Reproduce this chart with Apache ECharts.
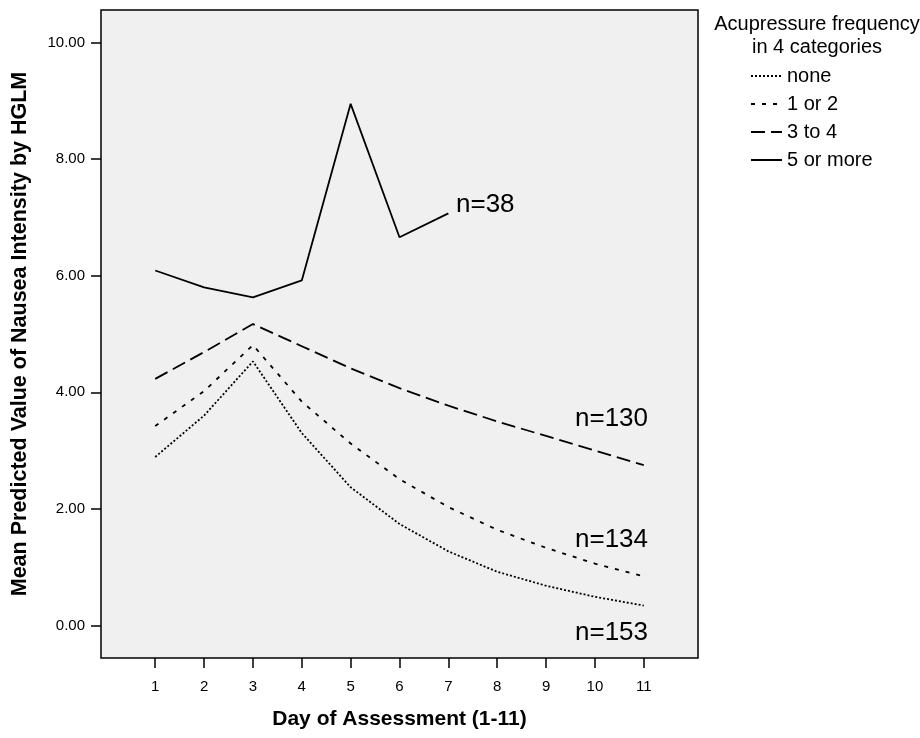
<!DOCTYPE html>
<html>
<head>
<meta charset="utf-8">
<script src="https://cdn.jsdelivr.net/npm/echarts@6/dist/echarts.min.js"></script>
<style>
  html, body { margin: 0; padding: 0; background: #fff; }
  #chart { width: 920px; height: 738px; }
</style>
</head>
<body>
<div id="chart"></div>
<script>
// values
const days = [1, 2, 3, 4, 5, 6, 7, 8, 9, 10, 11];
const yTicks = [0, 2, 4, 6, 8, 10];

const noneVals   = [2.89, 3.60, 4.53, 3.30, 2.37, 1.74, 1.27, 0.92, 0.68, 0.49, 0.34];
const oneTwoVals = [3.42, 4.02, 4.81, 3.84, 3.12, 2.51, 2.03, 1.64, 1.33, 1.06, 0.84];
const threeFour  = [4.23, 4.69, 5.17, 4.79, 4.41, 4.07, 3.77, 3.50, 3.25, 3.00, 2.75];
const fivePlus   = [6.09, 5.80, 5.63, 5.92, 8.95, 6.66, 7.07];

const seriesNames = ['none', '1 or 2', '3 to 4', '5 or more'];
const nLabels = ['n=153', 'n=134', 'n=130', 'n=38'];

const FONT = '"Liberation Sans", Arial, Helvetica, sans-serif';

function pairs(vals) {
  return vals.map((v, i) => [days[i], v]);
}

function lineSeries(name, vals, dash) {
  return {
    name: name,
    type: 'line',
    data: pairs(vals),
    symbol: 'none',
    lineStyle: { color: '#000', width: 1.8, type: dash },
    itemStyle: { color: '#000' },
    emphasis: { disabled: true },
    silent: true
  };
}

const chart = echarts.init(document.getElementById('chart'), null, { renderer: 'canvas' });

chart.setOption({
  animation: false,
  backgroundColor: '#fff',
  textStyle: { fontFamily: FONT },
  title: {
    text: 'Acupressure frequency\nin 4 categories',
    left: 812, top: 8,
    textAlign: 'center',
    textStyle: { fontFamily: FONT, fontWeight: 'normal', fontSize: 20, color: '#000', lineHeight: 23, align: 'center' }
  },
  legend: {
    orient: 'vertical',
    left: 745, top: 61,
    itemWidth: 31, itemHeight: 10, itemGap: 8,
    data: seriesNames,
    selectedMode: false,
    itemStyle: { opacity: 0 },
    textStyle: { fontFamily: FONT, fontSize: 20, color: '#000' }
  },
  grid: {
    left: 101, top: 10, right: 222, bottom: 80,
    show: true,
    backgroundColor: '#f0f0f0',
    borderColor: '#000', borderWidth: 1.5,
    containLabel: false
  },
  xAxis: {
    type: 'value',
    min: -0.11, max: 12.11,
    name: 'Day of Assessment (1-11)',
    nameLocation: 'middle', nameGap: 51,
    nameTextStyle: { fontFamily: FONT, fontWeight: 'bold', fontSize: 21, color: '#000' },
    axisLine: { show: false, onZero: false },
    splitLine: { show: false },
    axisTick: { show: true, length: 10, customValues: days, lineStyle: { color: '#000', width: 1.5 } },
    axisLabel: { customValues: days, margin: 21, fontSize: 15, color: '#000', fontFamily: FONT }
  },
  yAxis: {
    type: 'value',
    min: -0.56, max: 10.56,
    name: 'Mean Predicted Value of Nausea Intensity by HGLM',
    nameLocation: 'middle', nameGap: 70, nameRotate: 90,
    nameTextStyle: { fontFamily: FONT, fontWeight: 'bold', fontSize: 21.5, color: '#000' },
    axisLine: { show: false, onZero: false },
    splitLine: { show: false },
    axisTick: { show: true, length: 10, customValues: yTicks, lineStyle: { color: '#000', width: 1.5 } },
    axisLabel: { customValues: yTicks, margin: 16, fontSize: 15, color: '#000', fontFamily: FONT,
      formatter: v => v.toFixed(2) }
  },
  graphic: [
    { type: 'text', left: 575, top: 620, style: { text: nLabels[0], font: '26px ' + FONT, fill: '#000' } },
    { type: 'text', left: 575, top: 527, style: { text: nLabels[1], font: '26px ' + FONT, fill: '#000' } },
    { type: 'text', left: 575, top: 406, style: { text: nLabels[2], font: '26px ' + FONT, fill: '#000' } },
    { type: 'text', left: 456, top: 192, style: { text: nLabels[3], font: '26px ' + FONT, fill: '#000' } }
  ],
  series: [
    lineSeries(seriesNames[0], noneVals, [2, 2]),
    lineSeries(seriesNames[1], oneTwoVals, [4, 7]),
    lineSeries(seriesNames[2], threeFour, [14, 6]),
    lineSeries(seriesNames[3], fivePlus, 'solid')
  ]
});
</script>
</body>
</html>
